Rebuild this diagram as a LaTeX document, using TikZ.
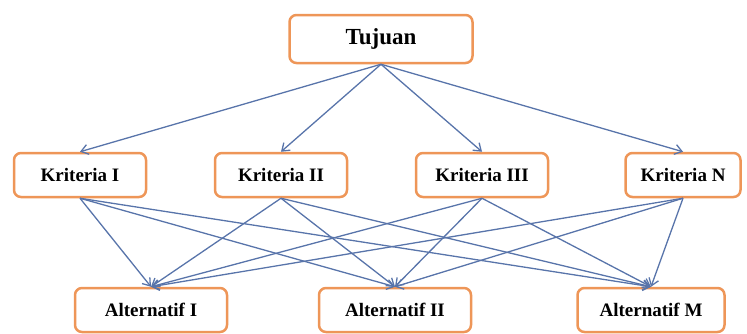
\documentclass[tikz,border=0pt]{standalone}
\usepackage{fontspec}
\setmainfont{Liberation Serif}
\usetikzlibrary{arrows.meta,positioning}
\definecolor{boxline}{RGB}{238,150,88}
\definecolor{arrline}{RGB}{88,116,170}
\tikzset{
    goalbox/.style = {draw=boxline, line width=2.5pt, rounded corners=7pt, fill=white,
        minimum width=183pt, minimum height=48pt, font=\fontsize{23}{27}\selectfont\bfseries},
    critbox/.style = {draw=boxline, line width=2.5pt, rounded corners=7pt, fill=white,
        minimum width=132pt, minimum height=44pt, font=\fontsize{19}{22}\selectfont\bfseries},
    altbox/.style = {critbox, minimum width=152pt},
    link/.style = {draw=arrline, line width=1.3pt, -{Straight Barb[length=7pt,width=10pt]}}
}
\begin{document}
\begin{tikzpicture}[x=1pt, y=1pt, node distance = 201pt]
        \useasboundingbox (0,0) rectangle (747,-333);
        \node (tujuan) [goalbox] at (381,-39) {Tujuan};
        \node (k1) [critbox] at (80,-175) {Kriteria I};
        \node (k2) [critbox, right of = k1] {Kriteria II};
        \node (k3) [critbox, right of = k2] {Kriteria III};
        \node (kn) [critbox, right of = k3, minimum width=115pt] {Kriteria N};
        \node (a1) [altbox] at (151,-310) {Alternatif I};
        \node (a2) [altbox, right of = a1, node distance = 244pt] {Alternatif II};
        \node (am) [altbox, right of = a2, node distance = 256pt, minimum width=147pt] {Alternatif M};
        \path (tujuan.south) edge [link] (k1.north) edge [link] (k2.north)
            edge [link] (k3.north) edge [link] (kn.north);
        \path (k1.south) edge [link] (a1.north) edge [link] (a2.north) edge [link] (am.north);
        \path (k2.south) edge [link] (a1.north) edge [link] (a2.north) edge [link] (am.north);
        \path (k3.south) edge [link] (a1.north) edge [link] (a2.north) edge [link] (am.north);
        \path (kn.south) edge [link] (a1.north) edge [link] (a2.north) edge [link] (am.north);
    \end{tikzpicture}
\end{document}
